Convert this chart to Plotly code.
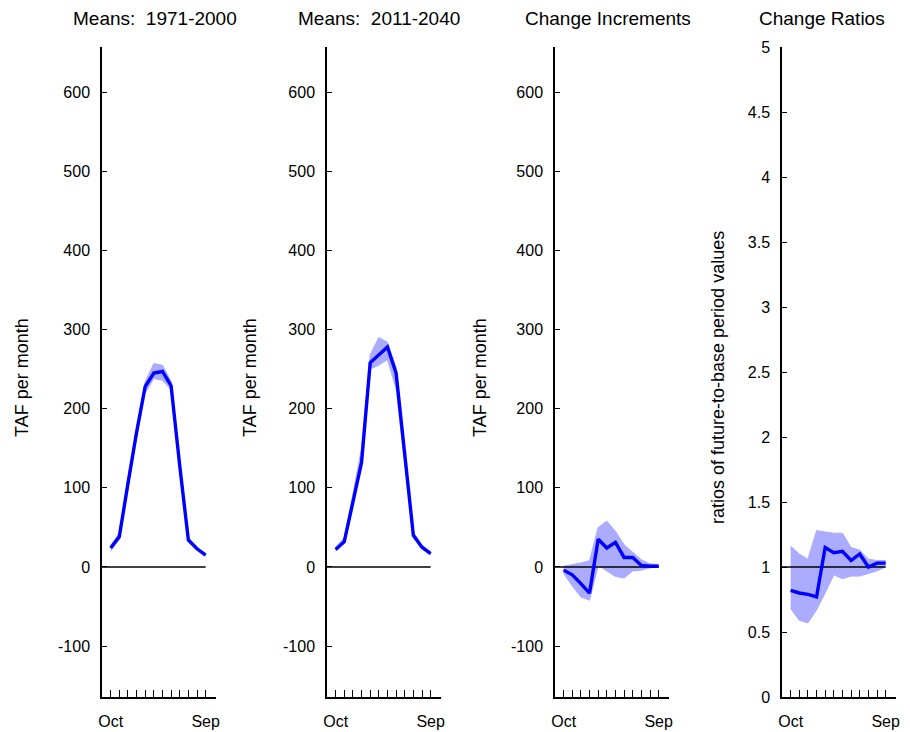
import plotly.graph_objects as go

months = ["Oct", "Nov", "Dec", "Jan", "Feb", "Mar", "Apr", "May", "Jun", "Jul", "Aug", "Sep"]
month_pos = list(range(1, 13))

# Panel 1: Means 1971-2000 (TAF per month)
base_mean = [24, 38, 105, 170, 228, 245, 247, 229, 128, 34, 23, 15]
base_upper = [27, 43, 112, 176, 234, 257, 255, 235, 133, 37, 25, 17]
base_lower = [20, 35, 100, 163, 220, 238, 236, 224, 124, 32, 21, 14]

# Panel 2: Means 2011-2040
fut_mean = [22, 32, 82, 132, 258, 268, 278, 245, 140, 40, 25, 17]
fut_upper = [25, 37, 92, 150, 268, 290, 284, 252, 146, 44, 27, 19]
fut_lower = [20, 30, 80, 128, 250, 255, 262, 225, 130, 38, 23, 16]

# Panel 3: Change increments
inc_mean = [-4, -10, -21, -33, 35, 24, 31, 12, 12, 2, 1, 1]
inc_upper = [1, 3, 5, 8, 50, 58, 45, 28, 18, 9, 4, 3]
inc_lower = [-8, -24, -38, -42, 2, -5, -12, -14, -5, -4, -1, 0]

# Panel 4: Change ratios
rat_mean = [0.82, 0.80, 0.79, 0.77, 1.15, 1.11, 1.12, 1.05, 1.10, 1.00, 1.03, 1.03]
rat_upper = [1.16, 1.10, 1.06, 1.28, 1.27, 1.26, 1.26, 1.15, 1.13, 1.06, 1.05, 1.05]
rat_lower = [0.68, 0.59, 0.57, 0.67, 0.80, 0.94, 0.91, 0.93, 0.93, 0.95, 0.97, 1.00]

titles = ["Means:  1971-2000", "Means:  2011-2040", "Change Increments", "Change Ratios"]
ylabels = ["TAF per month", "TAF per month", "TAF per month", "ratios of future-to-base period values"]

taf_ticks = [-100, 0, 100, 200, 300, 400, 500, 600]
taf_ticktext = ["-100", "0", "100", "200", "300", "400", "500", "600"]
ratio_ticks = [0, 0.5, 1, 1.5, 2, 2.5, 3, 3.5, 4, 4.5, 5]
ratio_ticktext = ["0", "0.5", "1", "1.5", "2", "2.5", "3", "3.5", "4", "4.5", "5"]

FONT = "Liberation Sans, Arial, sans-serif"
W, H = 910, 732
BLUE = "#0000ff"
BAND = "rgb(172,172,255)"

panels = [
    (base_mean, base_upper, base_lower, 0),
    (fut_mean, fut_upper, fut_lower, 0),
    (inc_mean, inc_upper, inc_lower, 0),
    (rat_mean, rat_upper, rat_lower, 1),
]

axis_left_px = [102, 327, 555, 782]
axis_w_px = 114
y_top_px, y_bot_px = 47, 697
title_x_px = [155, 379, 608, 822]
ylab_x_px = [22, 250, 480, 718]

fig = go.Figure()
layout = dict(
    width=W, height=H, autosize=False,
    margin=dict(l=0, r=0, t=0, b=0, pad=0, autoexpand=False),
    paper_bgcolor="white", plot_bgcolor="white",
    showlegend=False,
    font=dict(family=FONT, size=16, color="black"),
)
annotations = []

for i, (m, up, lo, ref) in enumerate(panels):
    n = "" if i == 0 else str(i + 1)
    xa, ya = "x" + n, "y" + n
    fig.add_trace(go.Scatter(x=month_pos, y=up, xaxis=xa, yaxis=ya, mode="lines",
                             line=dict(color=BAND, width=1), hoverinfo="skip"))
    fig.add_trace(go.Scatter(x=month_pos, y=lo, xaxis=xa, yaxis=ya, mode="lines",
                             line=dict(color=BAND, width=1), fill="tonexty",
                             fillcolor=BAND, hoverinfo="skip"))
    fig.add_trace(go.Scatter(x=[0, 12], y=[ref, ref], xaxis=xa, yaxis=ya, mode="lines",
                             line=dict(color="black", width=1.5), hoverinfo="skip"))
    fig.add_trace(go.Scatter(x=month_pos, y=m, xaxis=xa, yaxis=ya, mode="lines",
                             line=dict(color=BLUE, width=3.4)))

    x0 = axis_left_px[i] / W
    x1 = (axis_left_px[i] + axis_w_px) / W
    ticktext = [months[0]] + [""] * 10 + [months[-1]]
    layout["xaxis" + n] = dict(
        domain=[x0, x1], anchor=ya, range=[0, 13.2], automargin=False,
        tickmode="array", tickvals=month_pos, ticktext=ticktext,
        ticks="inside", ticklen=7, tickwidth=1.3, tickcolor="black",
        showline=True, linecolor="black", linewidth=1.5,
        showgrid=False, zeroline=False, fixedrange=True,
        tickfont=dict(size=16), ticklabelstandoff=9,
    )
    if ref == 1:
        yr, tv, tt = [0, 5], ratio_ticks, ratio_ticktext
    else:
        yr, tv, tt = [-164.3, 657], taf_ticks, taf_ticktext
    layout["yaxis" + n] = dict(
        domain=[1 - y_bot_px / H, 1 - y_top_px / H], anchor=xa, range=yr, automargin=False,
        tickmode="array", tickvals=tv, ticktext=tt,
        ticks="inside", ticklen=5, tickwidth=1.3, tickcolor="black",
        showline=True, linecolor="black", linewidth=1.5,
        showgrid=False, zeroline=False, fixedrange=True,
        tickfont=dict(size=16), ticklabelstandoff=7,
    )
    annotations.append(dict(text=titles[i], xref="paper", yref="paper",
                            x=title_x_px[i] / W, y=1 - 18 / H, showarrow=False,
                            xanchor="center", yanchor="middle",
                            font=dict(size=19, family=FONT, color="black")))
    annotations.append(dict(text=ylabels[i], xref="paper", yref="paper",
                            x=ylab_x_px[i] / W, y=1 - 378 / H, showarrow=False,
                            textangle=-90, xanchor="center", yanchor="middle",
                            font=dict(size=18, family=FONT, color="black")))

layout["annotations"] = annotations
fig.update_layout(**layout)
fig.write_html("out.html",
               post_script="document.body.style.margin='0';document.body.style.overflow='hidden';")
